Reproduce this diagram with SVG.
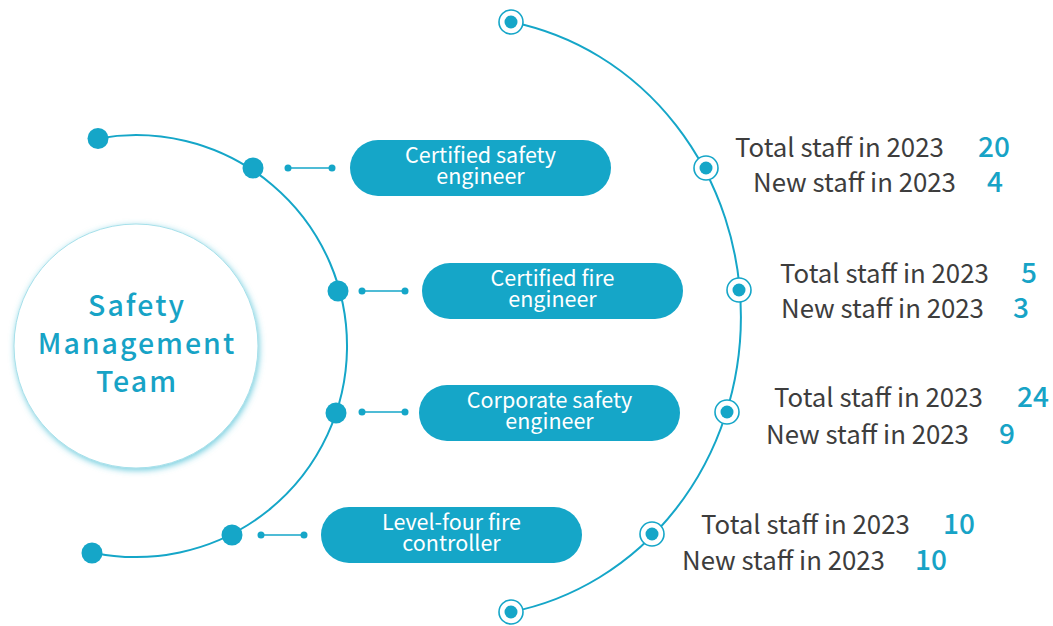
<svg xmlns="http://www.w3.org/2000/svg" width="1053" height="626" viewBox="0 0 1053 626">
<style>
.arc{fill:none;stroke:#15a6c8;stroke-width:2}
.dot{fill:#15a6c8}
.ring{fill:#fff;stroke:#15a6c8;stroke-width:1.6}
.pill{fill:#15a6c8}
.pt{font-family:"Noto Sans CJK SC","Noto Sans",sans-serif;font-size:21.5px;font-weight:400;fill:#fff;text-anchor:middle}
.lbl{font-family:"Noto Sans CJK SC","Noto Sans",sans-serif;font-size:25.8px;fill:#3d3d3d}
.num{font-family:"Noto Sans CJK SC","Noto Sans",sans-serif;font-size:28px;font-weight:500;fill:#17a3c6}
.ctr{font-family:"Noto Sans CJK SC","Noto Sans",sans-serif;font-size:28.5px;font-weight:500;fill:#17a3c6;text-anchor:middle;letter-spacing:2px}
.cl{stroke:#15a6c8;stroke-width:1.5}
</style>
<defs>
<filter id="glow" x="-20%" y="-20%" width="140%" height="140%">
<feDropShadow dx="1" dy="2" stdDeviation="3" flood-color="#3fbcd3" flood-opacity="0.75"/>
</filter>
</defs>
<g id="connectors">
<path class="arc" d="M 98 138.5 A 211 211 0 1 1 92 552.4"/>
<path class="arc" d="M 511 22 A 281 300 0 0 1 511 612"/>
<line class="cl" x1="288" y1="168" x2="332" y2="168"/>
<circle class="dot" cx="288" cy="168" r="3.5"/><circle class="dot" cx="332" cy="168" r="3.5"/>
<line class="cl" x1="362" y1="291" x2="405" y2="291"/>
<circle class="dot" cx="362" cy="291" r="3.5"/><circle class="dot" cx="405" cy="291" r="3.5"/>
<line class="cl" x1="362" y1="412" x2="405" y2="412"/>
<circle class="dot" cx="362" cy="412" r="3.5"/><circle class="dot" cx="405" cy="412" r="3.5"/>
<line class="cl" x1="261" y1="535" x2="304" y2="535"/>
<circle class="dot" cx="261" cy="535" r="3.5"/><circle class="dot" cx="304" cy="535" r="3.5"/>
</g>
<g id="left-dots">
<circle class="dot" cx="98" cy="138.5" r="10.5"/>
<circle class="dot" cx="253" cy="168" r="10.5"/>
<circle class="dot" cx="338" cy="291" r="10.5"/>
<circle class="dot" cx="336" cy="413" r="10.5"/>
<circle class="dot" cx="232" cy="535" r="10.5"/>
<circle class="dot" cx="92" cy="553" r="10.5"/>
</g>
<g id="right-markers">
<circle class="ring" cx="511" cy="22" r="12"/><circle class="dot" cx="511" cy="22" r="6.5"/>
<circle class="ring" cx="706" cy="168" r="12"/><circle class="dot" cx="706" cy="168" r="6.5"/>
<circle class="ring" cx="739" cy="290" r="12"/><circle class="dot" cx="739" cy="290" r="6.5"/>
<circle class="ring" cx="727" cy="412" r="12"/><circle class="dot" cx="727" cy="412" r="6.5"/>
<circle class="ring" cx="652" cy="534" r="12"/><circle class="dot" cx="652" cy="534" r="6.5"/>
<circle class="ring" cx="511" cy="612" r="12"/><circle class="dot" cx="511" cy="612" r="6.5"/>
</g>
<g id="center">
<circle cx="136" cy="346" r="122" fill="#fff" stroke="#a6e0ea" stroke-width="1" filter="url(#glow)"/>
<text class="ctr" x="137" y="316">Safety</text>
<text class="ctr" x="137" y="354">Management</text>
<text class="ctr" x="137" y="392">Team</text>
</g>
<g id="node-certified-safety-engineer">
<rect class="pill" x="350" y="140" width="261" height="56" rx="28"/>
<text class="pt" x="480.5" y="162.5">Certified safety</text>
<text class="pt" x="480.5" y="184">engineer</text>
</g>
<g id="node-certified-fire-engineer">
<rect class="pill" x="422" y="263" width="261" height="56" rx="28"/>
<text class="pt" x="552.5" y="285.5">Certified fire</text>
<text class="pt" x="552.5" y="307">engineer</text>
</g>
<g id="node-corporate-safety-engineer">
<rect class="pill" x="419" y="385" width="261" height="56" rx="28"/>
<text class="pt" x="549.5" y="407.5">Corporate safety</text>
<text class="pt" x="549.5" y="429">engineer</text>
</g>
<g id="node-level-four-fire-controller">
<rect class="pill" x="321" y="507" width="261" height="56" rx="28"/>
<text class="pt" x="451.5" y="529.5">Level-four fire</text>
<text class="pt" x="451.5" y="551">controller</text>
</g>
<g id="stats-1">
<text class="lbl" x="735" y="157">Total staff in 2023</text>
<text class="num" x="978" y="157">20</text>
<text class="lbl" x="753" y="192">New staff in 2023</text>
<text class="num" x="987" y="192">4</text>
</g>
<g id="stats-2">
<text class="lbl" x="780" y="283">Total staff in 2023</text>
<text class="num" x="1021" y="283">5</text>
<text class="lbl" x="781" y="318">New staff in 2023</text>
<text class="num" x="1013" y="318">3</text>
</g>
<g id="stats-3">
<text class="lbl" x="774" y="407">Total staff in 2023</text>
<text class="num" x="1017" y="407">24</text>
<text class="lbl" x="766" y="444">New staff in 2023</text>
<text class="num" x="999" y="444">9</text>
</g>
<g id="stats-4">
<text class="lbl" x="701" y="534">Total staff in 2023</text>
<text class="num" x="943" y="534">10</text>
<text class="lbl" x="682" y="570">New staff in 2023</text>
<text class="num" x="915" y="570">10</text>
</g>
</svg>
